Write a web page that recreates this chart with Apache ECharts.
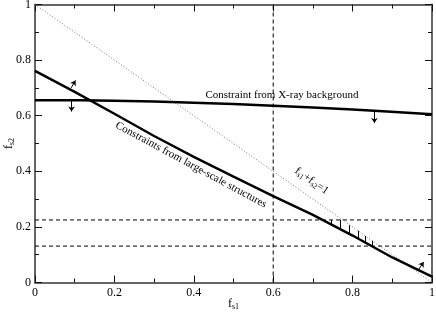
<!DOCTYPE html>
<html><head><meta charset="utf-8">
<script src="https://cdn.jsdelivr.net/npm/echarts@6/dist/echarts.min.js"></script>
<style>html,body{margin:0;padding:0;background:#fff}#c{width:436px;height:312px}</style>
</head><body><div id="c"></div>
<script>
// ---- data ----
const lssX = [0, 0.1, 0.2, 0.3, 0.4, 0.5, 0.6, 0.7, 0.8, 0.9, 1.0];
const lssY = [0.761, 0.686, 0.607, 0.527, 0.452, 0.381, 0.311, 0.243, 0.169, 0.090, 0.021];
const xrayX = [0, 0.2, 0.4, 0.6, 0.8, 1.0];
const xrayY = [0.656, 0.654, 0.647, 0.636, 0.622, 0.605];
const sumX = [0, 1];
const sumY = [1, 0];
const vDashX = 0.6;
const hDashY = [0.225, 0.131];
const hatchX = [0.745, 0.770, 0.792, 0.813, 0.832, 0.850];
const hatchTop = [0.225, 0.226, 0.206, 0.186, 0.167, 0.150];
const hatchBottom = [0.209, 0.192, 0.176, 0.160, 0.145, 0.132];
const arrowStart = [[0.091, 0.700], [0.092, 0.655], [0.855, 0.617], [0.966, 0.046]];
const arrowEnd = [[0.102, 0.727], [0.092, 0.615], [0.855, 0.574], [0.979, 0.074]];
const tickLabels = ['0', '0.2', '0.4', '0.6', '0.8', '1'];

const FONT = 'Liberation Serif';
const chart = echarts.init(document.getElementById('c'));
const zip = (a, b) => a.map((v, i) => [v, b[i]]);

function axisCommon(showLabel) {
  return {
    type: 'value', min: 0, max: 1, interval: 0.2,
    axisLine: { show: true, onZero: false, lineStyle: { color: '#666', width: 2 } },
    axisTick: { show: true, inside: true, length: 7, lineStyle: { color: '#111', width: 1 } },
    minorTick: { show: true, splitNumber: 2, length: 4, lineStyle: { color: '#111', width: 1 } },
    splitLine: { show: false },
    axisLabel: {
      show: showLabel, fontFamily: FONT, fontSize: 12, color: '#000',
      formatter: v => tickLabels[Math.round(v / 0.2)]
    }
  };
}

const richSub = {
  f: { fontFamily: FONT, fontSize: 12, color: '#000', lineHeight: 14, verticalAlign: 'middle' },
  s: { fontFamily: FONT, fontSize: 8, color: '#000', lineHeight: 8, verticalAlign: 'bottom' }
};
const richSmall = {
  f: { fontFamily: FONT, fontSize: 11, color: '#000', lineHeight: 13, verticalAlign: 'middle' },
  s: { fontFamily: FONT, fontSize: 7.5, color: '#000', lineHeight: 7, verticalAlign: 'bottom' }
};

const xBottom = Object.assign(axisCommon(true), { position: 'bottom' });
xBottom.axisLabel.margin = 4;
const xTop = Object.assign(axisCommon(false), { position: 'top' });
const yLeft = Object.assign(axisCommon(true), { position: 'left' });
yLeft.axisLabel.margin = 4;
const yRight = Object.assign(axisCommon(false), { position: 'right' });

const series = [
  { type: 'line', data: zip(sumX, sumY), showSymbol: false, silent: true,
    lineStyle: { color: '#777', width: 1, type: [1, 2] }, z: 2 },
  { type: 'line', data: [[vDashX, 0], [vDashX, 1]], showSymbol: false,
    lineStyle: { color: '#000', width: 1, type: [4, 3] }, z: 2 },
  { type: 'line', data: [[0, hDashY[0]], [1, hDashY[0]]], showSymbol: false,
    lineStyle: { color: '#000', width: 1, type: [4, 3] }, z: 2 },
  { type: 'line', data: [[0, hDashY[1]], [1, hDashY[1]]], showSymbol: false,
    lineStyle: { color: '#000', width: 1, type: [4, 3] }, z: 2 },
  { type: 'line', data: zip(xrayX, xrayY), showSymbol: false, smooth: 0.3,
    lineStyle: { color: '#000', width: 2.5 }, z: 3 },
  { type: 'line', data: zip(lssX, lssY), showSymbol: false,
    lineStyle: { color: '#000', width: 2.5 }, z: 3 },
  { type: 'lines', coordinateSystem: 'cartesian2d', polyline: false,
    data: hatchX.map((x, i) => ({ coords: [[x, hatchTop[i]], [x, hatchBottom[i]]] })),
    lineStyle: { color: '#000', width: 1, opacity: 1 }, z: 3 },
  { type: 'lines', coordinateSystem: 'cartesian2d', polyline: false,
    symbol: ['none', 'arrow'], symbolSize: 5,
    data: arrowStart.map((s, i) => ({ coords: [s, arrowEnd[i]] })),
    lineStyle: { color: '#000', width: 1, opacity: 1 }, z: 4 }
];

chart.setOption({
  animation: false,
  backgroundColor: '#fff',
  grid: { left: 35, right: 4, top: 4.5, bottom: 29.5, containLabel: false, outerBoundsMode: 'none' },
  xAxis: [xBottom, xTop],
  yAxis: [yLeft, yRight],
  series: series
});

// annotations placed at data coordinates
const labels = [
  { at: [0.622, 0.674], rot: 0, text: 'Constraint from X-ray background' },
  { at: [0.393, 0.423], rot: -28.3, text: 'Constraints from large-scale structures' },
  { at: [0.697, 0.365], rot: -35, text: '{f|f}{s|s1}{f|+f}{s|s2}{f|=1}', rich: richSmall }
];
const graphics = labels.map(l => {
  const p = chart.convertToPixel({ gridIndex: 0 }, l.at);
  return {
    type: 'text', x: p[0], y: p[1], rotation: l.rot * Math.PI / 180, z: 10,
    style: l.rich ? { text: l.text, rich: l.rich, align: 'center', verticalAlign: 'middle' }
      : { text: l.text, fontFamily: FONT, fontSize: 11, fill: '#000', align: 'center', verticalAlign: 'middle' }
  };
});
// axis titles (placed relative to the axis ends)
const p0 = chart.convertToPixel({ gridIndex: 0 }, [0, 0]);
const p1 = chart.convertToPixel({ gridIndex: 0 }, [1, 1]);
graphics.push({
  type: 'text', x: (p0[0] + p1[0]) / 2, y: p0[1] + 21, z: 10,
  style: { text: '{f|f}{s|s1}', rich: richSub, align: 'center', verticalAlign: 'middle' }
});
graphics.push({
  type: 'text', x: p0[0] - 26, y: (p0[1] + p1[1]) / 2, rotation: Math.PI / 2, z: 10,
  style: { text: '{f|f}{s|s2}', rich: richSub, align: 'center', verticalAlign: 'middle' }
});
chart.setOption({ graphic: graphics });
</script></body></html>
